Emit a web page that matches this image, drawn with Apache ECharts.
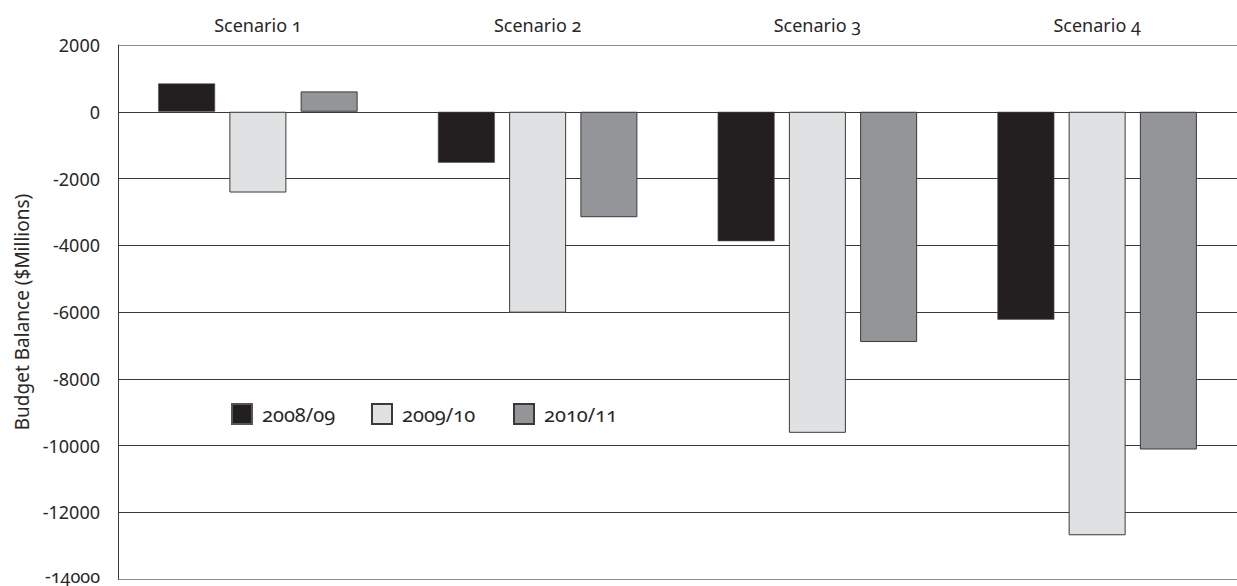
<!DOCTYPE html>
<html>
<head>
<meta charset="utf-8">
<title>Budget Balance by Scenario</title>
<script src="https://cdn.jsdelivr.net/npm/echarts@6/dist/echarts.min.js"></script>
<style>
  html, body { margin: 0; padding: 0; background: #ffffff; }
  #chart { width: 1237px; height: 586px; overflow: hidden; }
  #chart text { font-feature-settings: "onum" 1; }
</style>
</head>
<body>
<div id="chart"></div>
<script>
// Budget balance ($ millions) by scenario and fiscal year
const scenarios = ['Scenario 1', 'Scenario 2', 'Scenario 3', 'Scenario 4'];
const seriesNames = ['2008/09', '2009/10', '2010/11'];
const balance0809 = [850, -1530, -3880, -6230];
const balance0910 = [-2420, -6020, -9620, -12690];
const balance1011 = [610, -3160, -6900, -10120];
const yTicks = [-14000, -12000, -10000, -8000, -6000, -4000, -2000, 0, 2000];

const FONT = '"Noto Sans", "Open Sans", sans-serif';
const INK = '#2a2627';

const chart = echarts.init(document.getElementById('chart'), null, { renderer: 'svg' });

// horizontal rules: outer ones lighter, inner ones dark
const ruleColors = yTicks.map((v, i) => (i === 0 || i === yTicks.length - 1) ? '#8e8e8e' : '#3a3a3a');

function legendAt(name, left) {
  return {
    data: [name],
    left: left,
    top: 398,
    icon: 'rect',
    itemWidth: 20,
    itemHeight: 20,
    selectedMode: false,
    textStyle: { fontFamily: FONT, fontSize: 20, color: INK, padding: [0, 0, 0, 5] }
  };
}

const barStyle = [
  { color: '#231f20', borderColor: '#555', borderWidth: 0.6 },
  { color: '#e0e1e3', borderColor: '#3a3a3a', borderWidth: 1 },
  { color: '#939598', borderColor: '#3a3a3a', borderWidth: 1 }
];
const values = [balance0809, balance0910, balance1011];

chart.setOption({
  animation: false,
  backgroundColor: '#ffffff',
  legend: [legendAt(seriesNames[0], 226), legendAt(seriesNames[1], 366), legendAt(seriesNames[2], 508)],
  grid: { left: 118, top: 45, width: 1130, height: 534, containLabel: false },
  xAxis: {
    type: 'category',
    position: 'top',
    data: scenarios,
    axisLine: { show: false },
    axisTick: { show: false },
    axisLabel: { fontFamily: FONT, fontSize: 18, color: INK, margin: 11 }
  },
  yAxis: {
    type: 'value',
    min: yTicks[0],
    max: yTicks[yTicks.length - 1],
    interval: 2000,
    name: 'Budget Balance ($Millions)',
    nameLocation: 'middle',
    nameRotate: 90,
    nameGap: 84,
    nameTextStyle: { fontFamily: FONT, fontSize: 19, color: INK },
    axisLine: { show: true, lineStyle: { color: '#3a3a3a', width: 1 } },
    axisTick: { show: false },
    axisLabel: {
      fontFamily: FONT,
      fontSize: 18,
      color: INK,
      margin: 18,
      // lift the lowest label so it stays inside the page
      formatter: v => (v === yTicks[0] ? '{low|' + v + '}' : String(v)),
      rich: { low: { fontFamily: FONT, fontSize: 18, color: INK, padding: [0, 0, 7, 0] } }
    },
    splitLine: { show: true, lineStyle: { color: ruleColors, width: 1 } }
  },
  series: seriesNames.map((name, i) => ({
    name: name,
    type: 'bar',
    data: values[i],
    barWidth: 57,
    barGap: '25%',
    itemStyle: barStyle[i]
  }))
});
</script>
</body>
</html>
